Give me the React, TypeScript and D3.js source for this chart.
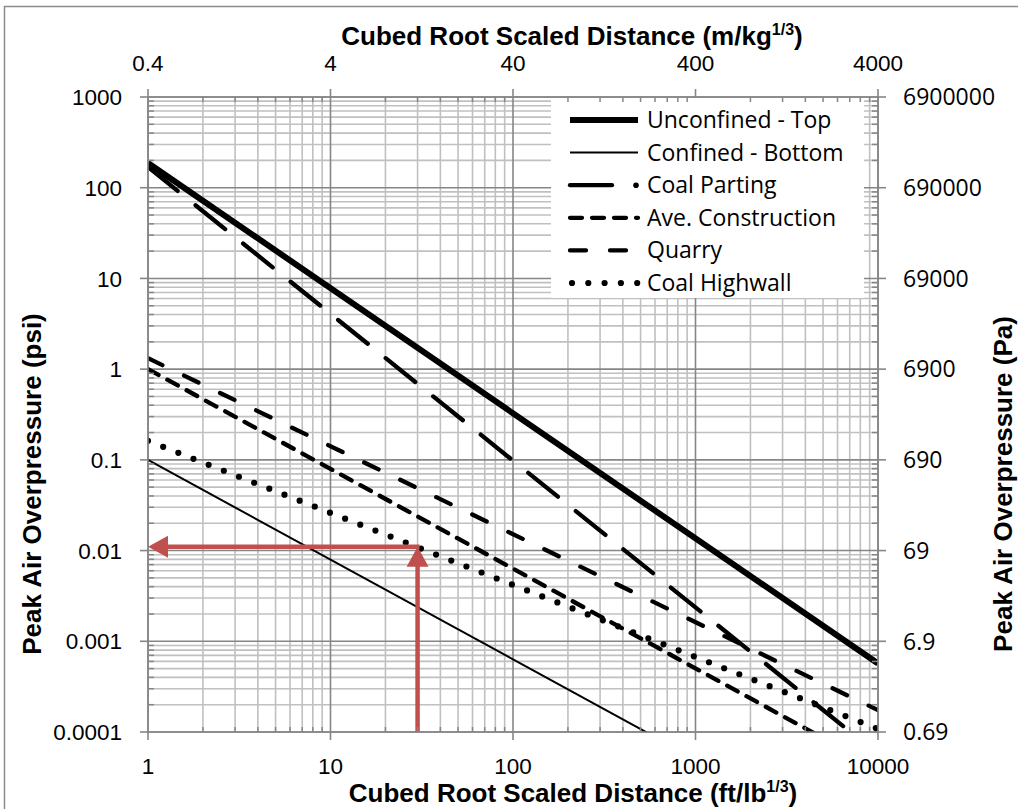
import React from 'react';
import * as d3 from 'd3';

// ---- data ----
const xTicks = [1, 10, 100, 1000, 10000];
const xTickLabels = ['1', '10', '100', '1000', '10000'];
const topTickLabels = ['0.4', '4', '40', '400', '4000'];
const yTicks = [0.0001, 0.001, 0.01, 0.1, 1, 10, 100, 1000];
const yTickLabels = ['0.0001', '0.001', '0.01', '0.1', '1', '10', '100', '1000'];
const rightTickLabels = ['0.69', '6.9', '69', '690', '6900', '69000', '690000', '6900000'];

const seriesNames = ['Unconfined - Top', 'Confined - Bottom', 'Coal Parting', 'Ave. Construction', 'Quarry', 'Coal Highwall'];
const scaledDistance = [1, 10000];
const unconfinedTop = [187, 0.00057];
const confinedBottom = [0.1, 0.000004];
const coalParting = [169, 0.000057];
const aveConstruction = [1.0, 0.00004];
const quarry = [1.32, 0.000174];
const coalHighwall = [0.162, 0.000108];

const arrowSD = 30;
const arrowP = 0.011;

// ---- layout / styles ----
const W = 1018, H = 809;
const PL = 148, PR = 878, PT = 97, PB = 732;
const ARIAL = 'Liberation Sans, Arial, sans-serif';
const CAL = 'Open Sans, sans-serif';
const RED = '#C0504D';

type Style = { w: number; dash?: string; cap?: string };
const styles: Style[] = [
  { w: 6 },
  { w: 2 },
  { w: 4.3, dash: '38 23', cap: 'round' },
  { w: 4.3, dash: '12 10', cap: 'round' },
  { w: 4.3, dash: '16 24', cap: 'round' },
  { w: 6.2, dash: '0 16.3', cap: 'round' },
];

export default function App() {
  const x = d3.scaleLog().domain([1, 10000]).range([PL, PR]);
  const y = d3.scaleLog().domain([0.0001, 1000]).range([PB, PT]);
  const seriesValues = [unconfinedTop, confinedBottom, coalParting, aveConstruction, quarry, coalHighwall];
  const line = d3.line<[number, number]>().x(d => x(d[0])).y(d => y(d[1]));

  const xMinor: number[] = [];
  for (let k = 0; k < xTicks.length - 1; k++) for (let m = 2; m <= 9; m++) xMinor.push(xTicks[k] * m);
  const yMinor: number[] = [];
  for (let k = 0; k < yTicks.length - 1; k++) for (let m = 2; m <= 9; m++) yMinor.push(yTicks[k] * m);

  const minorCol = '#c0c0c0';
  const majorCol = '#868686';

  const legX1 = 570, legX2 = 638, legText = 647, legY0 = 120, legDy = 32.6;

  const ax = x(arrowSD), ay = y(arrowP);

  return (
    <div style={{ position: 'absolute', left: 0, top: 0 }}>
      <svg width={W} height={H} style={{ display: 'block', background: '#fff' }}>
        <defs>
          <clipPath id="plotClip">
            <rect x={PL} y={PT} width={PR - PL} height={PB - PT} />
          </clipPath>
        </defs>
        <rect x={4.5} y={6.5} width={1100} height={1000} fill="#fff" stroke="#8c8c8c" strokeWidth={1.5} />

        {/* minor grid */}
        {xMinor.map((v, i) => (
          <line key={'xm' + i} x1={x(v)} x2={x(v)} y1={PT} y2={PB} stroke={minorCol} strokeWidth={1.6} />
        ))}
        {yMinor.map((v, i) => (
          <line key={'ym' + i} x1={PL} x2={PR} y1={y(v)} y2={y(v)} stroke={minorCol} strokeWidth={1.6} />
        ))}
        {/* major grid */}
        {xTicks.map((v, i) => (
          <line key={'xM' + i} x1={x(v)} x2={x(v)} y1={PT} y2={PB} stroke={majorCol} strokeWidth={1.6} />
        ))}
        {yTicks.map((v, i) => (
          <line key={'yM' + i} x1={PL} x2={PR} y1={y(v)} y2={y(v)} stroke={majorCol} strokeWidth={1.6} />
        ))}

        {/* series */}
        <g clipPath="url(#plotClip)">
          {seriesValues.map((vals, i) => {
            const pts: [number, number][] = scaledDistance.map((sd, j) => [sd, vals[j]]);
            const s = styles[i];
            return (
              <path key={'s' + i} d={line(pts) || ''} fill="none" stroke="#000" strokeWidth={s.w}
                strokeDasharray={s.dash} strokeLinecap={(s.cap as any) || 'butt'} />
            );
          })}
        </g>

        {/* annotation arrows */}
        <g>
          <line x1={ax} x2={ax} y1={PB} y2={ay + 18} stroke={RED} strokeWidth={4.5} />
          <polygon points={`${ax},${ay} ${ax - 11},${ay + 20} ${ax + 11},${ay + 20}`} fill={RED} />
          <line x1={ax + 2} x2={PL + 18} y1={ay} y2={ay} stroke={RED} strokeWidth={4.5} />
          <polygon points={`${PL},${ay} ${PL + 20},${ay - 11} ${PL + 20},${ay + 11}`} fill={RED} />
        </g>

        {/* legend */}
        <rect x={551} y={PT + 1} width={313} height={200} fill="#fff" />
        {seriesNames.map((name, i) => {
          const ly = legY0 + i * legDy;
          const s = styles[i];
          let sample;
          if (i === 2) {
            sample = (
              <g>
                <line x1={legX1} x2={612} y1={ly} y2={ly} stroke="#000" strokeWidth={4.3} strokeLinecap="round" />
                <circle cx={636} cy={ly} r={2.8} fill="#000" />
              </g>
            );
          } else if (i === 5) {
            sample = (
              <line x1={572} x2={638} y1={ly} y2={ly} stroke="#000" strokeWidth={s.w}
                strokeDasharray="0 16.3" strokeLinecap="round" />
            );
          } else {
            sample = (
              <line x1={legX1} x2={legX2} y1={ly} y2={ly} stroke="#000" strokeWidth={s.w}
                strokeDasharray={s.dash} strokeLinecap={(s.cap as any) || 'butt'} />
            );
          }
          return (
            <g key={'lg' + i}>
              {sample}
              <text x={legText} y={ly} dy="0.35em" fontFamily={CAL} fontSize={23} fill="#000">{name}</text>
            </g>
          );
        })}

        {/* axis lines */}
        <line x1={PL} x2={PL} y1={PT} y2={PB} stroke={majorCol} strokeWidth={1.6} />
        <line x1={PR} x2={PR} y1={PT} y2={PB} stroke={majorCol} strokeWidth={1.6} />
        <line x1={PL} x2={PR} y1={PT} y2={PT} stroke={majorCol} strokeWidth={1.6} />
        <line x1={PL} x2={PR} y1={PB} y2={PB} stroke={majorCol} strokeWidth={1.6} />

        {/* minor ticks */}
        {yMinor.map((v, i) => (
          <g key={'ymt' + i}>
            <line x1={PL} x2={PL + 6} y1={y(v)} y2={y(v)} stroke={majorCol} strokeWidth={1.5} />
            <line x1={PR - 6} x2={PR} y1={y(v)} y2={y(v)} stroke={majorCol} strokeWidth={1.5} />
          </g>
        ))}
        {xMinor.map((v, i) => (
          <g key={'xmt' + i}>
            <line x1={x(v)} x2={x(v)} y1={PT} y2={PT + 5} stroke={majorCol} strokeWidth={1.5} />
            <line x1={x(v)} x2={x(v)} y1={PB - 5} y2={PB} stroke={majorCol} strokeWidth={1.5} />
          </g>
        ))}
        {/* major ticks */}
        {yTicks.map((v, i) => (
          <g key={'ymT' + i}>
            <line x1={PL - 8} x2={PL} y1={y(v)} y2={y(v)} stroke={majorCol} strokeWidth={1.6} />
            <line x1={PR} x2={PR + 8} y1={y(v)} y2={y(v)} stroke={majorCol} strokeWidth={1.6} />
          </g>
        ))}
        {xTicks.map((v, i) => (
          <g key={'xmT' + i}>
            <line x1={x(v)} x2={x(v)} y1={PT - 8} y2={PT} stroke={majorCol} strokeWidth={1.6} />
            <line x1={x(v)} x2={x(v)} y1={PB} y2={PB + 8} stroke={majorCol} strokeWidth={1.6} />
          </g>
        ))}

        {/* tick labels */}
        {yTicks.map((v, i) => (
          <text key={'yl' + i} x={122} y={y(v)} dy="0.36em" textAnchor="end" fontFamily={ARIAL} fontSize={22.5} fill="#000">{yTickLabels[i]}</text>
        ))}
        {yTicks.map((v, i) => (
          <text key={'rl' + i} x={903} y={y(v)} dy="0.36em" textAnchor="start" fontFamily={CAL} fontSize={23} fill="#000">{rightTickLabels[i]}</text>
        ))}
        {xTicks.map((v, i) => (
          <text key={'xl' + i} x={x(v)} y={774} textAnchor="middle" fontFamily={ARIAL} fontSize={22.5} fill="#000">{xTickLabels[i]}</text>
        ))}
        {xTicks.map((v, i) => (
          <text key={'tl' + i} x={x(v)} y={71} textAnchor="middle" fontFamily={ARIAL} fontSize={22.5} fill="#000">{topTickLabels[i]}</text>
        ))}

        {/* titles */}
        <text x={572} y={45} textAnchor="middle" fontFamily={ARIAL} fontWeight="bold" fontSize={26} fill="#000">
          Cubed Root Scaled Distance (m/kg<tspan fontSize={16} dy={-10}>1/3</tspan><tspan dy={10}>)</tspan>
        </text>
        <text x={573} y={802} textAnchor="middle" fontFamily={ARIAL} fontWeight="bold" fontSize={26} fill="#000">
          Cubed Root Scaled Distance (ft/lb<tspan fontSize={16} dy={-10}>1/3</tspan><tspan dy={10}>)</tspan>
        </text>
        <text transform="translate(41,484) rotate(-90)" textAnchor="middle" fontFamily={ARIAL} fontWeight="bold" fontSize={26} fill="#000">
          Peak Air Overpressure (psi)
        </text>
        <text transform="translate(1012,484) rotate(-90)" textAnchor="middle" fontFamily={ARIAL} fontWeight="bold" fontSize={26} fill="#000">
          Peak Air Overpressure (Pa)
        </text>
      </svg>
    </div>
  );
}
